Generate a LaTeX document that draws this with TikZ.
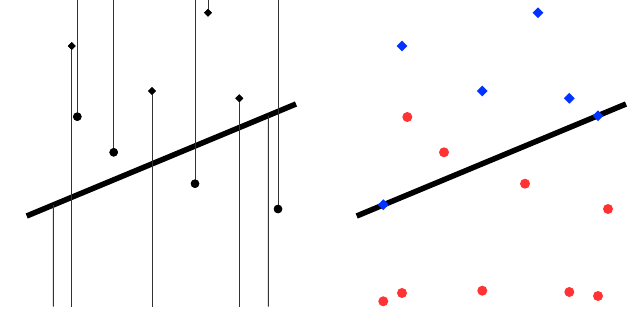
\documentclass[tikz,border=0pt]{standalone}
\usetikzlibrary{shapes.geometric}
\definecolor{ptred}{RGB}{255,51,51}
\definecolor{ptblue}{RGB}{0,51,255}
\begin{document}
\begin{tikzpicture}[x=1pt,y=-1pt,
  fitline/.style={line width=5.5pt},
  proj/.style={line width=1pt,black!80},
  bdot/.style={circle,fill=black,inner sep=0pt,minimum size=8.5pt},
  bdia/.style={diamond,fill=black,inner sep=0pt,minimum size=8pt},
  rdot/.style={circle,fill=ptred,inner sep=0pt,minimum size=10pt},
  udia/.style={diamond,fill=ptblue,inner sep=0pt,minimum size=11pt}]
\useasboundingbox (0,0) rectangle (640,334);
% ---------- left panel ----------
\coordinate (la) at (26.7,216);
\coordinate (lb) at (296,104);
\draw[fitline] (la) -- (lb);
% points
\node[bdia] (d1) at (71.7,46) {};
\node[bdia] (d2) at (152,91) {};
\node[bdia] (d3) at (208,12.7) {};
\node[bdia] (d4) at (239.3,98.3) {};
\node[bdot] (c1) at (77.3,116.7) {};
\node[bdot] (c2) at (113.7,152.3) {};
\node[bdot] (c3) at (195,183.7) {};
\node[bdot] (c4) at (278,209) {};
% line-end coordinates
\path (la) -- (lb) coordinate[pos=0.0988] (on1) coordinate[pos=0.897] (on9);
\coordinate (b1) at (53.3,306.7);
\coordinate (b2) at (71.7,306.7);
\coordinate (b5) at (152,306.7);
\coordinate (b8) at (239.3,306.7);
\coordinate (b9) at (268.3,306.7);
\coordinate (t3) at (77.3,0);
\coordinate (t4) at (113.7,0);
\coordinate (t6) at (195,0);
\coordinate (t7) at (208,0);
\coordinate (t10) at (278,0);
\draw[proj] (on1) -- (b1);
\draw[proj] (d1.center) -- (b2);
\draw[proj] (t3) -- (c1.center);
\draw[proj] (t4) -- (c2.center);
\draw[proj] (d2.center) -- (b5);
\draw[proj] (t6) -- (c3.center);
\draw[proj] (t7) -- (d3.center);
\draw[proj] (d4.center) -- (b8);
\draw[proj] (on9) -- (b9);
\draw[proj] (t10) -- (c4.center);
\node[bdia] at (d1) {};
\node[bdia] at (d2) {};
\node[bdia] at (d3) {};
\node[bdia] at (d4) {};
\node[bdot] at (c1) {};
\node[bdot] at (c2) {};
\node[bdot] at (c3) {};
\node[bdot] at (c4) {};
% ---------- right panel ----------
\coordinate (ra) at (356.7,216);
\coordinate (rb) at (626,104);
\draw[fitline] (ra) -- (rb);
\node[udia] (u1) at (402,46) {};
\node[udia] (u2) at (538,12.7) {};
\node[udia] (u3) at (482.3,91) {};
\node[udia] (u4) at (569.3,98.3) {};
\node[udia] (u5) at (598,115.7) {};
\node[udia] (u6) at (383.3,204.7) {};
\node[rdot] (r1) at (407.3,117) {};
\node[rdot] (r2) at (444,152.3) {};
\node[rdot] (r3) at (525,183.7) {};
\node[rdot] (r4) at (608,209) {};
\node[rdot] (r5) at (383.3,301.3) {};
\node[rdot] (r6) at (402,293) {};
\node[rdot] (r7) at (482.3,290.7) {};
\node[rdot] (r8) at (569.3,292) {};
\node[rdot] (r9) at (598,296) {};
\end{tikzpicture}
\end{document}
